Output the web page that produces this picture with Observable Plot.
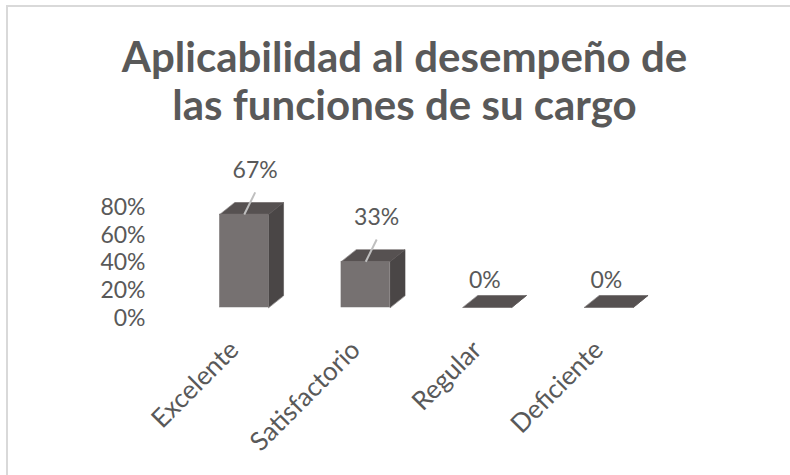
<!DOCTYPE html>
<html>
<head>
<meta charset="utf-8">
<script src="https://cdn.jsdelivr.net/npm/d3@7"></script>
<script src="https://cdn.jsdelivr.net/npm/@observablehq/plot@0.6"></script>
<style>
  html, body { margin: 0; padding: 0; background: #fff; }
  #page { position: relative; width: 790px; height: 475px; overflow: hidden; font-family: Lato, "Open Sans", sans-serif; }
  #frame { position: absolute; left: 6px; top: 5px; width: 800px; height: 480px;
           border-top: 2px solid #d9d9d9; border-left: 2px solid #d9d9d9; }
  #title { position: absolute; left: 0; top: 32px; width: 809px; text-align: center;
           font-weight: 700; font-size: 42px; line-height: 48px; color: #595959; }
  #chart { position: absolute; left: 0; top: 140px; }
</style>
</head>
<body>
<div id="page">
  <div id="frame"></div>
  <div id="title"></div>
  <div id="chart"></div>
</div>
<script>
const titleLines = ["Aplicabilidad al desempeño de", "las funciones de su cargo"];
const categories = ["Excelente", "Satisfactorio", "Regular", "Deficiente"];
const values = [0.67, 0.33, 0, 0];
const valueLabels = ["67%", "33%", "0%", "0%"];
const yTicks = [0, 0.2, 0.4, 0.6, 0.8];

document.getElementById("title").innerHTML = titleLines.join("<br>");

// 3D look parameters (style)
const half = 0.2;      // half bar width, x data units
const depthX = 0.1235; // depth offset in x data units
const depthY = 0.0865; // depth offset in y data units

const bars = categories.map((c, i) => ({category: c, i, v: values[i], label: valueLabels[i]}));

const topFaces = [], sideFaces = [];
bars.forEach(b => {
  const x0 = b.i - half, x1 = b.i + half;
  [[x0, b.v], [x1, b.v], [x1 + depthX, b.v + depthY], [x0 + depthX, b.v + depthY]]
    .forEach(([x, y]) => topFaces.push({id: b.i, x, y}));
  [[x1, 0], [x1, b.v], [x1 + depthX, b.v + depthY], [x1 + depthX, depthY]]
    .forEach(([x, y]) => sideFaces.push({id: b.i, x, y}));
});

// label placement: moved labels (with leader line) vs default
const labelDX = b => b.v > 0 ? 0.09 : -0.02;
const labelDY = b => b.v > 0 ? 0.317 : 0.195;
const leaders = bars.filter(b => b.v > 0);

const chart = Plot.plot({
  width: 790,
  height: 335,
  marginLeft: 183,
  marginRight: 121,
  marginTop: 56,
  marginBottom: 168,
  x: {type: "linear", domain: [-0.5, 3.5], axis: null},
  y: {type: "linear", domain: [0, 0.8]},
  style: {fontFamily: "Lato, 'Open Sans', sans-serif", fontSize: "23px", color: "#595959", background: "transparent", overflow: "visible"},
  marks: [
    Plot.axisY({ticks: yTicks, tickSize: 0, tickPadding: 38, dy: 11, tickFormat: d => Math.round(d * 100) + "%", label: null, fontSize: 23}),
    Plot.line(sideFaces, {x: "x", y: "y", z: "id", curve: "linear-closed", fill: "#4a4646", stroke: "#4a4646", strokeWidth: 0.5}),
    Plot.line(topFaces, {x: "x", y: "y", z: "id", curve: "linear-closed", fill: "#565151", stroke: "#565151", strokeWidth: 0.5}),
    Plot.rect(bars, {x1: d => d.i - half, x2: d => d.i + half, y1: 0, y2: "v", fill: "#767171", stroke: "#767171", strokeWidth: 0.5}),
    Plot.link(leaders, {x1: d => d.i + 0.09, y1: d => d.v + 0.16, x2: d => d.i, y2: d => d.v, stroke: "#bfbfbf", strokeWidth: 2}),
    Plot.text(bars, {x: d => d.i + labelDX(d), y: d => d.v + labelDY(d), text: "label", fill: "#595959", fontSize: 23, lineAnchor: "middle"}),
    Plot.text(bars, {x: "i", frameAnchor: "bottom", text: "category", rotate: -45, textAnchor: "end", lineAnchor: "bottom", dx: -4, dy: 44, fill: "#595959", fontSize: 26})
  ]
});
document.getElementById("chart").appendChild(chart);
</script>
</body>
</html>
